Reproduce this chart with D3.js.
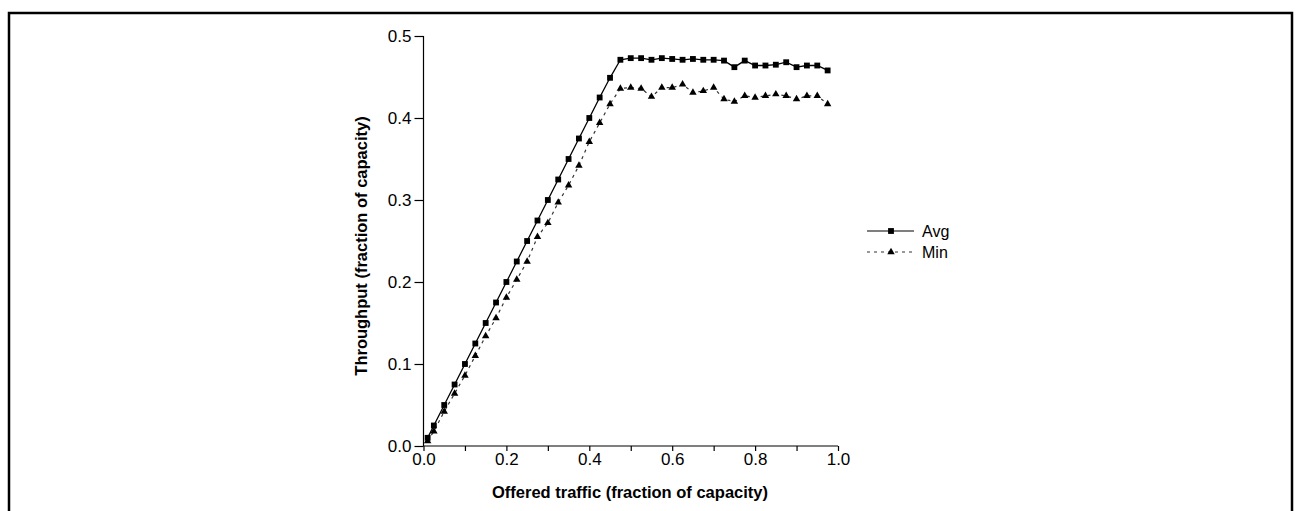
<!DOCTYPE html>
<head>
  <meta charset="utf-8">
  <style>
    body { margin: 0; background: #fff; }
    svg text { font-family: "Liberation Sans", Arial, sans-serif; fill: #000; }
    .title { font-size: 16.5px; font-weight: bold; text-anchor: middle; }
  </style>
</head>
<body>
  <svg width=1301 height=511 id="chart"></svg>
  <script src="https://d3js.org/d3.v7.min.js"></script>
  <script>
    // offered traffic (x) and measured throughput for both series
    const offered = [0.01, 0.025, 0.05, 0.075, 0.1, 0.125, 0.15, 0.175, 0.2, 0.225,
                     0.25, 0.275, 0.3, 0.325, 0.35, 0.375, 0.4, 0.425, 0.45, 0.475,
                     0.5, 0.525, 0.55, 0.575, 0.6, 0.625, 0.65, 0.675, 0.7, 0.725,
                     0.75, 0.775, 0.8, 0.825, 0.85, 0.875, 0.9, 0.925, 0.95, 0.975];
    const avgVals = [0.01, 0.025, 0.05, 0.075, 0.1, 0.125, 0.15, 0.175, 0.2, 0.225,
                     0.25, 0.275, 0.3, 0.325, 0.35, 0.375, 0.4, 0.425, 0.449, 0.471,
                     0.473, 0.473, 0.471, 0.473, 0.472, 0.471, 0.472, 0.471, 0.471, 0.47,
                     0.462, 0.47, 0.464, 0.464, 0.465, 0.468, 0.462, 0.464, 0.464, 0.458];
    const minVals = [0.006, 0.018, 0.042, 0.064, 0.086, 0.11, 0.134, 0.156, 0.181, 0.203,
                     0.225, 0.255, 0.272, 0.297, 0.318, 0.342, 0.371, 0.394, 0.417, 0.436,
                     0.437, 0.436, 0.426, 0.437, 0.437, 0.441, 0.431, 0.433, 0.437, 0.423,
                     0.42, 0.427, 0.425, 0.427, 0.429, 0.427, 0.423, 0.427, 0.427, 0.417];
    const xTicks = [0, 0.1, 0.2, 0.3, 0.4, 0.5, 0.6, 0.7, 0.8, 0.9, 1.0];
    const yTicks = [0, 0.1, 0.2, 0.3, 0.4, 0.5];
    const seriesNames = ["Avg", "Min"];

    let svg = d3.select("#chart");

    // page frame
    svg.append("rect")
      .attr("x", 9).attr("y", 13)
      .attr("width", 1283).attr("height", 510)
      .attr("fill", "none").attr("stroke", "#000").attr("stroke-width", 2.5);

    let x = d3.scaleLinear().domain([0, 1]).range([423.5, 838]),
        y = d3.scaleLinear().domain([0, 0.5]).range([446, 36]);

    let g = svg.append("g");

    g.append("g")
      .attr("transform", "translate(0,446)")
      .call(d3.axisBottom(x).tickValues(xTicks).tickSize(5).tickPadding(2)
        .tickFormat(d => (Math.round(d * 10) % 2 === 0) ? d3.format(".1f")(d) : ""))
      .call(a => a.select(".domain").attr("d", "M423.5,0H838"));

    g.append("g")
      .attr("transform", "translate(423.5,0)")
      .call(d3.axisLeft(y).tickValues(yTicks).tickSize(9).tickPadding(3)
        .tickFormat(d3.format(".1f")))
      .call(a => a.select(".domain").attr("d", "M0,36V446"));

    g.selectAll(".domain, .tick line").attr("stroke", "#000").attr("stroke-width", 1.2);
    g.selectAll(".tick text")
      .style("font-size", "17px")
      .style("font-family", "Liberation Sans, Arial, sans-serif");

    svg.append("text").attr("class", "title")
      .attr("x", 630).attr("y", 498)
      .text("Offered traffic (fraction of capacity)");
    svg.append("text").attr("class", "title")
      .attr("transform", "translate(367,246) rotate(-90)")
      .text("Throughput (fraction of capacity)");

    let avgData = offered.map((d, i) => [d, avgVals[i]]),
        minData = offered.map((d, i) => [d, minVals[i]]);

    let line = d3.line().x(d => x(d[0])).y(d => y(d[1]));
    let square = d3.symbol().type(d3.symbolSquare).size(34),
        triangle = d3.symbol().type(d3.symbolTriangle).size(24);

    g.append("path").datum(minData)
      .attr("d", line).attr("fill", "none")
      .attr("stroke", "#333").attr("stroke-width", 1.2).attr("stroke-dasharray", "3,4");
    g.append("path").datum(avgData)
      .attr("d", line).attr("fill", "none")
      .attr("stroke", "#000").attr("stroke-width", 1.3);

    g.selectAll(".tri").data(minData).enter().append("path")
      .attr("class", "tri")
      .attr("transform", d => `translate(${x(d[0])},${y(d[1])})`)
      .attr("d", triangle).attr("fill", "#000");
    g.selectAll(".sq").data(avgData).enter().append("path")
      .attr("class", "sq")
      .attr("transform", d => `translate(${x(d[0])},${y(d[1])})`)
      .attr("d", square).attr("fill", "#000");

    // legend
    let legend = svg.append("g").attr("transform", "translate(867,231)");
    seriesNames.forEach((name, i) => {
      let row = legend.append("g").attr("transform", `translate(0,${i * 21})`);
      row.append("line").attr("x1", 0).attr("x2", 47).attr("y1", 0).attr("y2", 0)
        .attr("stroke", i ? "#333" : "#000").attr("stroke-width", 1.2)
        .attr("stroke-dasharray", i ? "3,4" : null);
      row.append("path").attr("transform", "translate(24,0)")
        .attr("d", i ? triangle : square).attr("fill", "#000");
      row.append("text").attr("x", 55).attr("y", 6).style("font-size", "16px").text(name);
    });
  </script>
</body>
